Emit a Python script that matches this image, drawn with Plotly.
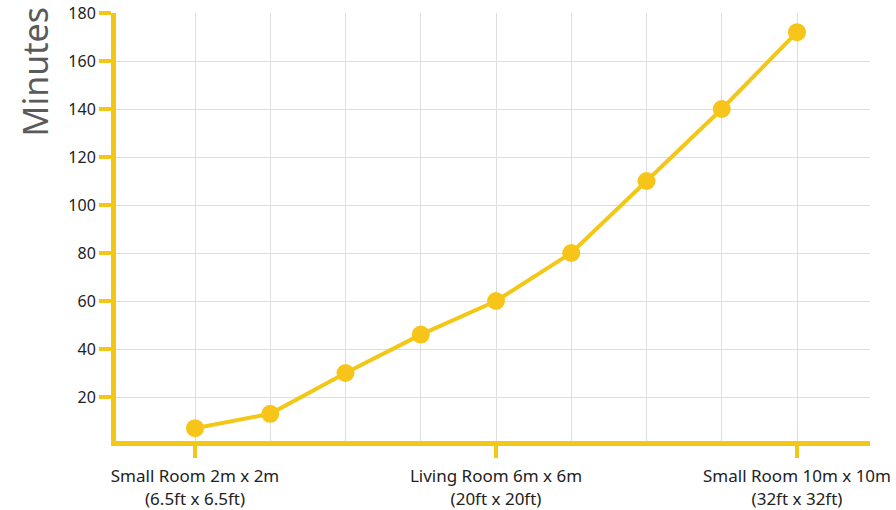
import plotly.graph_objects as go

x_index = [0, 1, 2, 3, 4, 5, 6, 7, 8]
minutes = [7, 13, 30, 46, 60, 80, 110, 140, 172]
x_tick_positions = [0, 4, 8]
x_tick_labels = [
    "Small Room 2m x 2m<br>(6.5ft x 6.5ft)",
    "Living Room 6m x 6m<br>(20ft x 20ft)",
    "Small Room 10m x 10m<br>(32ft x 32ft)",
]
x_minor_grid = [1, 2, 3, 5, 6, 7, 9]
y_ticks = [20, 40, 60, 80, 100, 120, 140, 160, 180]

YELLOW = "#F2C716"
MARKER = "#F7C51A"
FONT = "Noto Sans, sans-serif"

fig = go.Figure(
    go.Scatter(
        x=x_index, y=minutes, mode="lines+markers",
        line=dict(color=YELLOW, width=4),
        marker=dict(color=MARKER, size=18),
        cliponaxis=False,
    )
)

fig.update_layout(
    width=896, height=510,
    margin=dict(l=116, r=26, t=13, b=69),
    paper_bgcolor="white", plot_bgcolor="white",
    showlegend=False,
    font=dict(family=FONT, color="#222222", size=15),
)

fig.update_xaxes(
    range=[-1.05, 8.97], automargin=False,
    tickmode="array", tickvals=x_tick_positions, ticktext=x_tick_labels,
    showgrid=True, gridcolor="#dddddd", gridwidth=1,
    minor=dict(tickmode="array", tickvals=x_minor_grid, showgrid=True,
               gridcolor="#dddddd", gridwidth=1, ticks=""),
    showline=True, linecolor=YELLOW, linewidth=5,
    ticks="outside", ticklen=12, tickwidth=4, tickcolor=YELLOW,
    ticklabelstandoff=4, ticklabeloverflow="allow",
    tickfont=dict(size=17, color="#222222"),
    zeroline=False,
)

fig.update_yaxes(
    range=[1.67, 180], automargin=False,
    tickmode="array", tickvals=y_ticks,
    showgrid=True, gridcolor="#dddddd", gridwidth=1,
    showline=True, linecolor=YELLOW, linewidth=5,
    ticks="outside", ticklen=12, tickwidth=4, tickcolor=YELLOW,
    ticklabeloverflow="allow",
    tickfont=dict(size=16, color="#222222"),
    zeroline=False,
)

fig.add_annotation(
    text="Minutes", xref="paper", yref="paper",
    x=-0.107, y=0.862, xanchor="center", yanchor="middle",
    showarrow=False, textangle=-90,
    font=dict(size=34, color="#5a5a5a", family=FONT),
)

fig.write_html(
    "out.html",
    config={"displayModeBar": False},
    post_script="document.body.style.margin='0';",
)
